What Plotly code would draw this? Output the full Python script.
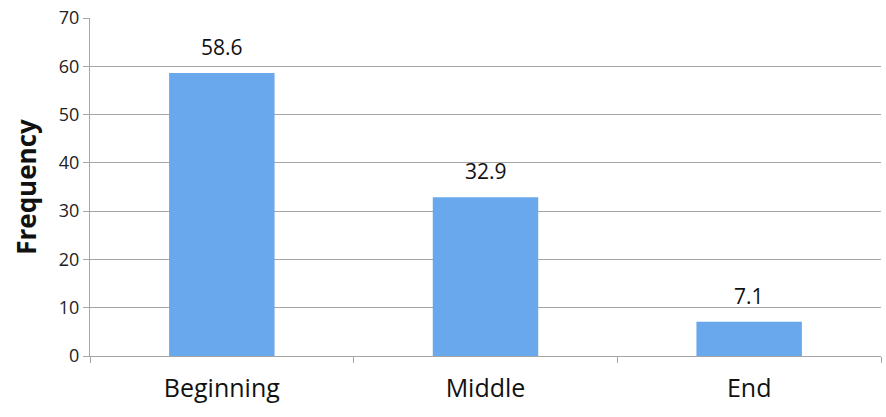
import plotly.graph_objects as go

categories = ["Beginning", "Middle", "End"]
values = [58.6, 32.9, 7.1]
labels = ["58.6", "32.9", "7.1"]
y_ticks = [0, 10, 20, 30, 40, 50, 60, 70]

fig = go.Figure()
fig.add_trace(go.Bar(
    x=categories, y=values,
    marker=dict(color="#6aa8ee", line=dict(width=0)),
    width=0.4,
))
for c, v, t in zip(categories, values, labels):
    fig.add_annotation(x=c, y=v, text=t, showarrow=False, yanchor="bottom",
                       yshift=10, font=dict(size=21, color="#111111"))
fig.update_layout(
    width=886, height=417,
    margin=dict(l=90, r=5, t=13, b=61),
    paper_bgcolor="white", plot_bgcolor="white",
    showlegend=False,
    font=dict(family="Open Sans", color="#222222"),
)
fig.update_yaxes(
    range=[0, 70], tickvals=y_ticks, showgrid=True, gridcolor="#a6a6a6", gridwidth=1,
    showline=True, linecolor="#a6a6a6", ticks="outside", ticklen=6, tickcolor="#a6a6a6",
    tickfont=dict(size=18, color="#222222"), zeroline=False,
    title=dict(text="<b>Frequency</b>", font=dict(size=26, color="#111111"), standoff=14),
)
fig.update_xaxes(
    showline=True, linecolor="#a6a6a6", ticks="outside", tickson="boundaries",
    ticklen=6, tickcolor="#a6a6a6", tickfont=dict(size=25, color="#111111"),
    ticklabelstandoff=10,
)
fig.write_html("out.html")
